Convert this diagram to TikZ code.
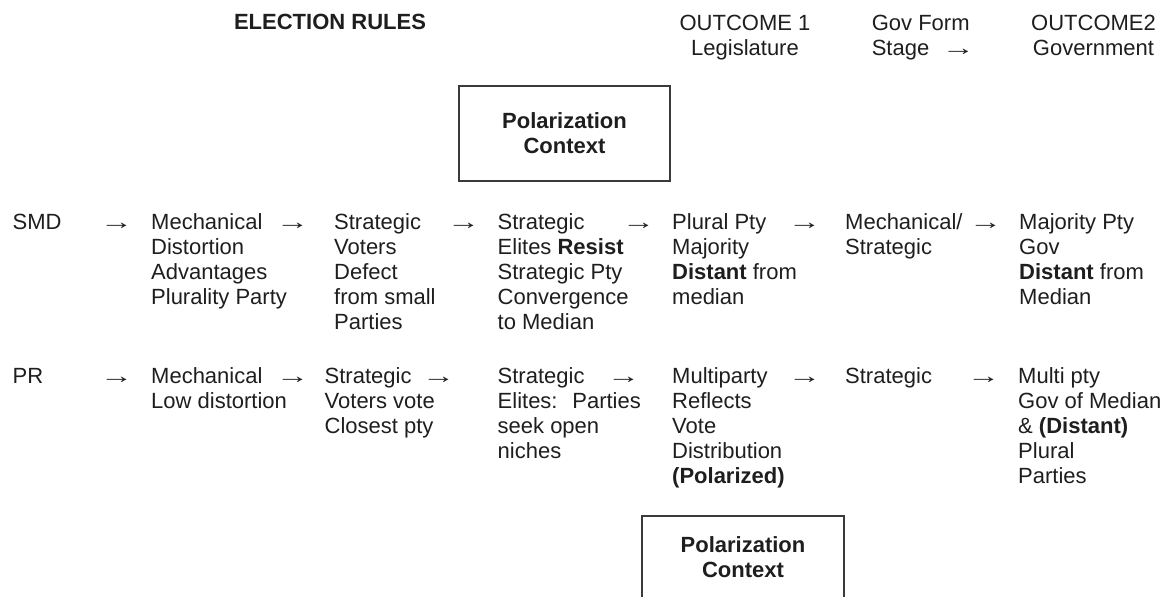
\documentclass[tikz,border=0pt]{standalone}
\usepackage{fontspec}
\usepackage{graphicx}
\setmainfont{Liberation Sans}
\definecolor{ink}{HTML}{1E1E1E}
\definecolor{boxline}{HTML}{3A3A3A}
\newcommand{\mlL}[1]{\begin{tabular}[t]{@{}l@{}}#1\end{tabular}}
\newcommand{\mlC}[1]{\begin{tabular}[t]{@{}c@{}}#1\end{tabular}}
\newcommand{\rarr}{\scalebox{1.5}[1]{→}}
\begin{document}
\begin{tikzpicture}[x=1pt,y=-1pt,
  txt/.style={anchor=base west, inner sep=0pt, font=\fontsize{22}{25}\selectfont, text=ink},
  ctr/.style={anchor=base, inner sep=0pt, font=\fontsize{22}{25}\selectfont, text=ink},
  arr/.style={anchor=base west, inner sep=0pt, font=\fontsize{22}{25}\selectfont, text=ink},
  boxl/.style={draw=boxline, line width=1.3pt}]
\useasboundingbox (0,0) rectangle (1170,597);

% header
\node[ctr, font=\fontsize{22}{25}\selectfont\bfseries] (hrules) at (330,29) {ELECTION RULES};
\node[ctr] (hout1) at (745,30) {\mlC{OUTCOME 1\\Legislature}};
\node[txt] (hgov) at (871.6,30) {\mlL{Gov Form\\\makebox[70pt][l]{Stage}\rarr}};
\node[ctr] (hout2) at (1093.5,30) {\mlC{OUTCOME2\\Government}};

% top polarization box
\draw[boxl] (459,86) rectangle (670,181);
\node[ctr, font=\fontsize{22}{25}\selectfont\bfseries] (pol1) at (564.5,128) {\mlC{Polarization\\Context}};

% SMD row
\node[txt] (smd) at (12.5,229) {SMD};
\node[arr] (sa1) at (100,229) {\rarr};
\node[txt] (s2) at (151,229) {\mlL{Mechanical\\Distortion\\Advantages\\Plurality Party}};
\node[arr] (sa2) at (276,229) {\rarr};
\node[txt] (s3) at (334,229) {\mlL{Strategic\\Voters\\Defect\\from small\\Parties}};
\node[arr] (sa3) at (447,229) {\rarr};
\node[txt] (s4) at (497.5,229) {\mlL{Strategic\\Elites \textbf{Resist}\\Strategic Pty\\Convergence\\to Median}};
\node[arr] (sa4) at (622,229) {\rarr};
\node[txt] (s5) at (672,229) {\mlL{Plural Pty\\Majority\\\textbf{Distant} from\\median}};
\node[arr] (sa5) at (788,229) {\rarr};
\node[txt] (s6) at (845,229) {\mlL{Mechanical/\\Strategic}};
\node[arr] (sa6) at (969,229) {\rarr};
\node[txt] (s7) at (1019,229) {\mlL{Majority Pty\\Gov\\\textbf{Distant} from\\Median}};

% PR row
\node[txt] (pr) at (12.5,383) {PR};
\node[arr] (pa1) at (100,383) {\rarr};
\node[txt] (p2) at (151,383) {\mlL{Mechanical\\Low distortion}};
\node[arr] (pa2) at (276,383) {\rarr};
\node[txt] (p3) at (324.5,383) {\mlL{Strategic\\Voters vote\\Closest pty}};
\node[arr] (pa3) at (422,383) {\rarr};
\node[txt] (p4) at (497.5,383) {\mlL{Strategic\\Elites:\hspace{0.3em} Parties\\seek open\\niches}};
\node[arr] (pa4) at (607,383) {\rarr};
\node[txt] (p5) at (672,383) {\mlL{Multiparty\\Reflects\\Vote\\Distribution\\\textbf{(Polarized)}}};
\node[arr] (pa5) at (788,383) {\rarr};
\node[txt] (p6) at (845,383) {Strategic};
\node[arr] (pa6) at (967,383) {\rarr};
\node[txt] (p7) at (1018,383) {\mlL{Multi pty\\Gov of Median\\\& \textbf{(Distant)}\\Plural\\Parties}};

% bottom polarization box (cut off at bottom edge)
\draw[boxl] (642,600) -- (642,516) -- (844,516) -- (844,600);
\node[ctr, font=\fontsize{22}{25}\selectfont\bfseries] (pol2) at (743,552) {\mlC{Polarization\\Context}};
\end{tikzpicture}
\end{document}
